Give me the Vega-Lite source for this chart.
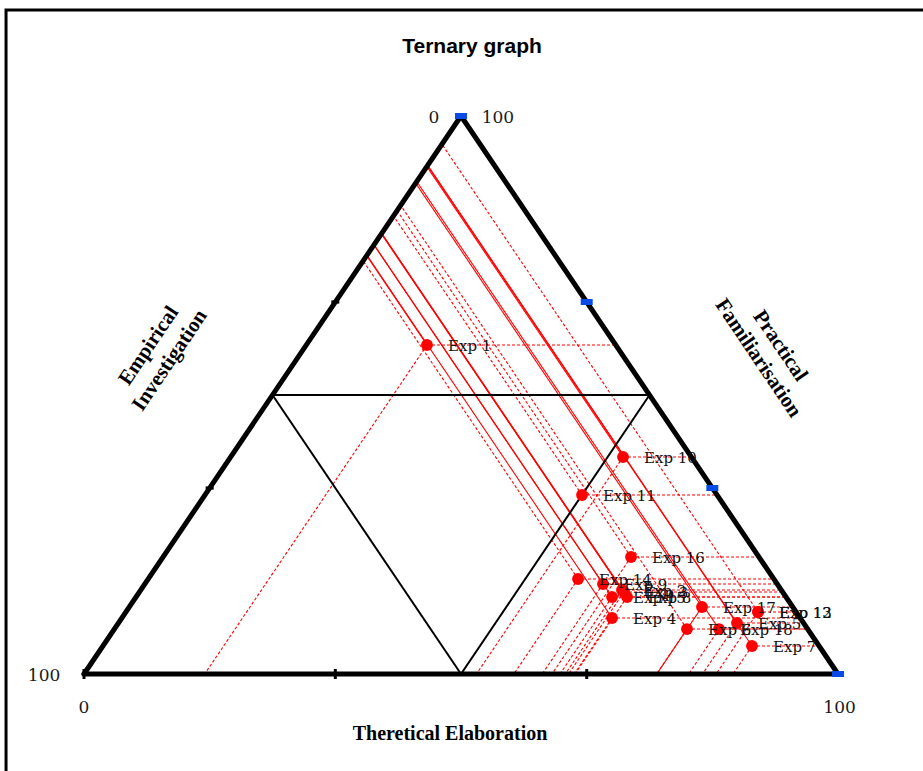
{
  "$schema": "https://vega.github.io/schema/vega-lite/v6.json",
  "width": 923,
  "height": 771,
  "autosize": {"type": "none"},
  "padding": 0,
  "background": "white",
  "config": {"view": {"stroke": null}},
  "datasets": {
    "pts": [
      {"exp": "Exp 1", "x": 45.49, "y": 58.96},
      {"exp": "Exp 2", "x": 71.35, "y": 15.05},
      {"exp": "Exp 3", "x": 71.62, "y": 14.70},
      {"exp": "Exp 4", "x": 70.03, "y": 10.04},
      {"exp": "Exp 5", "x": 86.60, "y": 9.14},
      {"exp": "Exp 6", "x": 79.97, "y": 8.06},
      {"exp": "Exp 7", "x": 88.59, "y": 5.02},
      {"exp": "Exp 8", "x": 72.02, "y": 13.80},
      {"exp": "Exp 9", "x": 68.83, "y": 16.13},
      {"exp": "Exp 10", "x": 71.49, "y": 38.89},
      {"exp": "Exp 11", "x": 66.05, "y": 32.08},
      {"exp": "Exp 12", "x": 89.39, "y": 11.11},
      {"exp": "Exp 13", "x": 89.39, "y": 11.11},
      {"exp": "Exp 14", "x": 65.52, "y": 17.03},
      {"exp": "Exp 15", "x": 70.03, "y": 13.80},
      {"exp": "Exp 16", "x": 72.55, "y": 20.97},
      {"exp": "Exp 17", "x": 81.96, "y": 12.01},
      {"exp": "Exp 18", "x": 84.22, "y": 8.06}
    ],
    "segs": [
      {"x": 45.49, "y": 58.96, "x2": 70.52, "y2": 58.96, "d": "dash"},
      {"x": 45.49, "y": 58.96, "x2": 16.01, "y2": 0, "d": "dash"},
      {"x": 45.49, "y": 58.96, "x2": 37.49, "y2": 74.97, "d": "solid"},
      {"x": 71.49, "y": 38.89, "x2": 80.56, "y2": 38.89, "d": "dash"},
      {"x": 71.49, "y": 38.89, "x2": 52.05, "y2": 0, "d": "dash"},
      {"x": 71.49, "y": 38.89, "x2": 45.47, "y2": 90.94, "d": "solid"},
      {"x": 66.05, "y": 32.08, "x2": 83.96, "y2": 32.08, "d": "dash"},
      {"x": 66.05, "y": 32.08, "x2": 50.01, "y2": 0, "d": "dash"},
      {"x": 66.05, "y": 32.08, "x2": 41.05, "y2": 82.09, "d": "dash"},
      {"x": 72.55, "y": 20.97, "x2": 89.52, "y2": 20.97, "d": "dash"},
      {"x": 72.55, "y": 20.97, "x2": 62.07, "y2": 0, "d": "dash"},
      {"x": 72.55, "y": 20.97, "x2": 41.52, "y2": 83.04, "d": "dash"},
      {"x": 65.52, "y": 17.03, "x2": 91.49, "y2": 17.03, "d": "dash"},
      {"x": 65.52, "y": 17.03, "x2": 57.01, "y2": 0, "d": "dash"},
      {"x": 65.52, "y": 17.03, "x2": 37.02, "y2": 74.04, "d": "dash"},
      {"x": 68.83, "y": 16.13, "x2": 91.94, "y2": 16.13, "d": "dash"},
      {"x": 68.83, "y": 16.13, "x2": 60.77, "y2": 0, "d": "dash"},
      {"x": 68.83, "y": 16.13, "x2": 38.45, "y2": 76.90, "d": "solid"},
      {"x": 71.35, "y": 15.05, "x2": 92.48, "y2": 15.05, "d": "dash"},
      {"x": 71.35, "y": 15.05, "x2": 63.83, "y2": 0, "d": "dash"},
      {"x": 71.35, "y": 15.05, "x2": 39.44, "y2": 78.88, "d": "solid"},
      {"x": 71.62, "y": 14.70, "x2": 92.65, "y2": 14.70, "d": "dash"},
      {"x": 71.62, "y": 14.70, "x2": 64.27, "y2": 0, "d": "dash"},
      {"x": 71.62, "y": 14.70, "x2": 39.49, "y2": 78.97, "d": "solid"},
      {"x": 70.03, "y": 13.80, "x2": 93.10, "y2": 13.80, "d": "dash"},
      {"x": 70.03, "y": 13.80, "x2": 63.13, "y2": 0, "d": "dash"},
      {"x": 70.03, "y": 13.80, "x2": 38.47, "y2": 76.93, "d": "solid"},
      {"x": 72.02, "y": 13.80, "x2": 93.10, "y2": 13.80, "d": "dash"},
      {"x": 72.02, "y": 13.80, "x2": 65.12, "y2": 0, "d": "dash"},
      {"x": 72.02, "y": 13.80, "x2": 39.46, "y2": 78.92, "d": "solid"},
      {"x": 70.03, "y": 10.04, "x2": 94.98, "y2": 10.04, "d": "dash"},
      {"x": 70.03, "y": 10.04, "x2": 65.01, "y2": 0, "d": "dash"},
      {"x": 70.03, "y": 10.04, "x2": 37.53, "y2": 75.05, "d": "solid"},
      {"x": 81.96, "y": 12.01, "x2": 94.00, "y2": 12.01, "d": "dash"},
      {"x": 81.96, "y": 12.01, "x2": 75.96, "y2": 0, "d": "solid"},
      {"x": 81.96, "y": 12.01, "x2": 43.98, "y2": 87.97, "d": "solid"},
      {"x": 79.97, "y": 8.06, "x2": 95.97, "y2": 8.06, "d": "dash"},
      {"x": 79.97, "y": 8.06, "x2": 75.94, "y2": 0, "d": "dash"},
      {"x": 79.97, "y": 8.06, "x2": 42.00, "y2": 84.00, "d": "dash"},
      {"x": 84.22, "y": 8.06, "x2": 95.97, "y2": 8.06, "d": "dash"},
      {"x": 84.22, "y": 8.06, "x2": 80.19, "y2": 0, "d": "dash"},
      {"x": 84.22, "y": 8.06, "x2": 44.13, "y2": 88.25, "d": "solid"},
      {"x": 86.60, "y": 9.14, "x2": 95.43, "y2": 9.14, "d": "dash"},
      {"x": 86.60, "y": 9.14, "x2": 82.03, "y2": 0, "d": "dash"},
      {"x": 86.60, "y": 9.14, "x2": 45.59, "y2": 91.17, "d": "solid"},
      {"x": 89.39, "y": 11.11, "x2": 94.45, "y2": 11.11, "d": "dash"},
      {"x": 89.39, "y": 11.11, "x2": 83.84, "y2": 0, "d": "dash"},
      {"x": 89.39, "y": 11.11, "x2": 47.47, "y2": 94.95, "d": "dash"},
      {"x": 88.59, "y": 5.02, "x2": 97.49, "y2": 5.02, "d": "dash"},
      {"x": 88.59, "y": 5.02, "x2": 86.08, "y2": 0, "d": "dash"},
      {"x": 88.59, "y": 5.02, "x2": 45.55, "y2": 91.10, "d": "solid"}
    ]
  },
  "encoding": {
    "x": {"field": "x", "type": "quantitative", "axis": null, "scale": {"domain": [-11.14, 111.27], "nice": false, "zero": false}},
    "y": {"field": "y", "type": "quantitative", "axis": null, "scale": {"domain": [-17.38, 120.79], "nice": false, "zero": false}}
  },
  "layer": [
    {
      "data": {"values": [{"x": -10.34, "y": 119.0, "x2": 125, "y2": -30}]},
      "mark": {"type": "rect", "filled": false, "stroke": "#000000", "strokeWidth": 3},
      "encoding": {"x2": {"field": "x2"}, "y2": {"field": "y2"}}
    },
    {
      "data": {"name": "segs"},
      "mark": {"type": "rule", "color": "#ff0000", "strokeWidth": 1.1},
      "encoding": {
        "x2": {"field": "x2"},
        "y2": {"field": "y2"},
        "strokeDash": {"field": "d", "type": "nominal", "legend": null, "scale": {"domain": ["dash", "solid"], "range": [[3, 2], [1, 0]]}}
      }
    },
    {
      "data": {"values": [
        {"x": 25, "y": 50, "x2": 75, "y2": 50},
        {"x": 25, "y": 50, "x2": 50, "y2": 0},
        {"x": 50, "y": 0, "x2": 75, "y2": 50}
      ]},
      "mark": {"type": "rule", "color": "#000000", "strokeWidth": 2},
      "encoding": {"x2": {"field": "x2"}, "y2": {"field": "y2"}}
    },
    {
      "data": {"values": [
        {"x": 0, "y": 0, "x2": 50, "y2": 100},
        {"x": 50, "y": 100, "x2": 100, "y2": 0},
        {"x": 100, "y": 0, "x2": 0, "y2": 0}
      ]},
      "mark": {"type": "rule", "color": "#000000", "strokeWidth": 5, "strokeCap": "round"},
      "encoding": {"x2": {"field": "x2"}, "y2": {"field": "y2"}}
    },
    {
      "data": {"values": [
        {"x": 0, "y": 0}, {"x": 33.33, "y": 0}, {"x": 66.67, "y": 0}
      ]},
      "mark": {"type": "point", "shape": "M-0.3,-1H0.3V1H-0.3Z", "filled": true, "color": "#000000", "opacity": 1, "size": 100}
    },
    {
      "data": {"values": [
        {"x": 16.67, "y": 33.33}, {"x": 33.33, "y": 66.67}
      ]},
      "mark": {"type": "point", "shape": "M-1,-0.4H1V0.4H-1Z", "filled": true, "color": "#000000", "opacity": 1, "size": 64}
    },
    {
      "data": {"values": [
        {"x": 50, "y": 100}, {"x": 66.67, "y": 66.67}, {"x": 83.33, "y": 33.33}, {"x": 100, "y": 0}
      ]},
      "mark": {"type": "point", "shape": "M-1,-0.5H1V0.5H-1Z", "filled": true, "color": "#0a4be6", "opacity": 1, "size": 144}
    },
    {
      "data": {"name": "pts"},
      "mark": {"type": "point", "shape": "circle", "filled": true, "color": "#ff0000", "opacity": 1, "size": 140}
    },
    {
      "data": {"name": "pts"},
      "mark": {"type": "text", "align": "left", "baseline": "middle", "dx": 21, "dy": 1, "font": "DejaVu Serif", "fontSize": 15, "color": "#111111"},
      "encoding": {"text": {"field": "exp"}}
    },
    {
      "data": {"values": [
        {"t": "0", "x": 46.4, "y": 99.7},
        {"t": "100", "x": 54.9, "y": 99.7},
        {"t": "100", "x": -5.3, "y": -0.3},
        {"t": "0", "x": 0, "y": -6.1},
        {"t": "100", "x": 100.2, "y": -6.1}
      ]},
      "mark": {"type": "text", "align": "center", "baseline": "middle", "font": "DejaVu Serif", "fontSize": 17, "color": "#1a1a1a"},
      "encoding": {"text": {"field": "t"}}
    },
    {
      "data": {"values": [{"t": "Theretical Elaboration", "x": 48.54, "y": -10.8}]},
      "mark": {"type": "text", "align": "center", "baseline": "middle", "font": "Liberation Serif", "fontWeight": "bold", "fontSize": 20, "color": "#000000"},
      "encoding": {"text": {"field": "t"}}
    },
    {
      "data": {"values": [
        {"t": "Empirical", "x": 8.6, "y": 58.8},
        {"t": "Investigation", "x": 11.4, "y": 56.2}
      ]},
      "mark": {"type": "text", "align": "center", "baseline": "middle", "angle": 304, "font": "Liberation Serif", "fontWeight": "bold", "fontSize": 21, "color": "#000000"},
      "encoding": {"text": {"field": "t"}}
    },
    {
      "data": {"values": [
        {"t": "Practical", "x": 92.3, "y": 58.8},
        {"t": "Familiarisation", "x": 89.4, "y": 56.6}
      ]},
      "mark": {"type": "text", "align": "center", "baseline": "middle", "angle": 56, "font": "Liberation Serif", "fontWeight": "bold", "fontSize": 21, "color": "#000000"},
      "encoding": {"text": {"field": "t"}}
    },
    {
      "data": {"values": [{"t": "Ternary graph", "x": 51.46, "y": 112.4}]},
      "mark": {"type": "text", "align": "center", "baseline": "middle", "font": "Liberation Sans", "fontWeight": "bold", "fontSize": 21, "color": "#000000"},
      "encoding": {"text": {"field": "t"}}
    }
  ]
}
